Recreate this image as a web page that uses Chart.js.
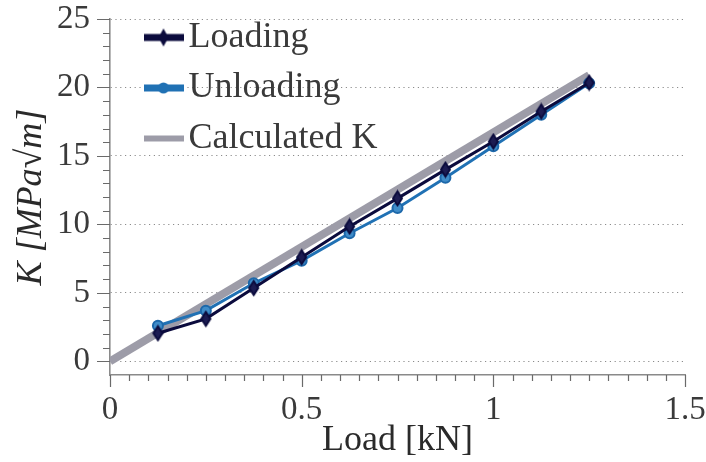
<!DOCTYPE html>
<html>
<head>
<meta charset="utf-8">
<script src="https://cdn.jsdelivr.net/npm/chart.js@4"></script>
<style>
  html, body { margin: 0; padding: 0; background: #ffffff; }
  #wrap { width: 706px; height: 462px; position: relative; }
</style>
</head>
<body>
<div id="wrap"><canvas id="c" width="706" height="462"></canvas></div>
<script>
// ---- data ----
const loadKN      = [0.125, 0.25, 0.375, 0.5, 0.625, 0.75, 0.875, 1.0, 1.125, 1.25];
const loadingK    = [2.05, 3.1, 5.35, 7.6, 9.85, 11.9, 14.0, 16.05, 18.25, 20.35];
const unloadingK  = [2.6, 3.7, 5.7, 7.35, 9.35, 11.2, 13.4, 15.7, 18.0, 20.3];
const calcLoadKN  = [0, 1.25];
const calcK       = [0, 20.9];
const seriesNames = ['Loading', 'Unloading', 'Calculated K'];
const xTickLabels = ['0', '0.5', '1', '1.5'];
const yTickLabels = ['0', '5', '10', '15', '20', '25'];
const xTitle = 'Load [kN]';
const yTitle = 'K [MPa\u221Am]';

// ---- styles ----
const NAVY = '#0b0b3d';
const BLUE = '#2071b4';
const GRAY = '#9d9ca8';
const TEXT = '#3a3a3a';
const SERIF = 'Liberation Serif';

function diamondCanvas(w, h, fill, stroke, lw) {
  const c = document.createElement('canvas');
  c.width = Math.ceil(w + lw + 2); c.height = Math.ceil(h + lw + 2);
  const g = c.getContext('2d');
  const cx = c.width / 2, cy = c.height / 2;
  g.beginPath();
  g.moveTo(cx, cy - h / 2); g.lineTo(cx + w / 2, cy); g.lineTo(cx, cy + h / 2); g.lineTo(cx - w / 2, cy); g.closePath();
  g.fillStyle = fill; g.fill();
  g.lineWidth = lw; g.strokeStyle = stroke; g.stroke();
  return c;
}
function legendCanvas(color, lw, marker) {
  const c = document.createElement('canvas');
  c.width = 40; c.height = 22;
  const g = c.getContext('2d');
  g.strokeStyle = color; g.lineWidth = lw; g.lineCap = 'butt';
  g.beginPath(); g.moveTo(0, 11); g.lineTo(40, 11); g.stroke();
  if (marker === 'diamond') {
    g.beginPath(); g.moveTo(20, 2); g.lineTo(25, 11); g.lineTo(20, 20); g.lineTo(15, 11); g.closePath();
    g.fillStyle = color; g.fill();
  } else if (marker === 'circle') {
    g.beginPath(); g.arc(20, 11, 5.5, 0, Math.PI * 2); g.fillStyle = color; g.fill();
  }
  return c;
}
const pointDiamond = diamondCanvas(9, 14, '#1c1c52', NAVY, 2);
const legendImgs = [legendCanvas(NAVY, 7, 'diamond'), legendCanvas(BLUE, 7, 'circle'), legendCanvas(GRAY, 6, null)];

const isMajorX = v => Math.abs(v * 2 - Math.round(v * 2)) < 1e-6;
const isMajorY = v => Math.abs(v / 5 - Math.round(v / 5)) < 1e-6 && v >= 0;

const tickMarks = {
  id: 'tickMarks',
  afterDraw(chart) {
    const ctx = chart.ctx;
    const xs = chart.scales.x, ys = chart.scales.y;
    ctx.save();
    ctx.strokeStyle = '#6a6a6a';
    ctx.lineWidth = 1.2;
    ctx.beginPath();
    xs.ticks.forEach(t => {
      const px = Math.round(xs.getPixelForValue(t.value)) + 0.5;
      const len = isMajorX(t.value) ? 12 : 6;
      ctx.moveTo(px, xs.top); ctx.lineTo(px, xs.top + len);
    });
    ys.ticks.forEach(t => {
      if (t.value < 0) return;
      const py = Math.round(ys.getPixelForValue(t.value)) + 0.5;
      const len = isMajorY(t.value) ? 13 : 7;
      ctx.moveTo(ys.right, py); ctx.lineTo(ys.right - len, py);
    });
    ctx.stroke();
    ctx.restore();
  }
};
const legendPlace = {
  id: 'legendPlace',
  afterLayout(chart) {
    if (chart.legend) { chart.legend.left = 142; chart.legend.top = 5; }
  }
};

new Chart(document.getElementById('c'), {
  type: 'line',
  data: {
    datasets: [
      {
        label: seriesNames[0],
        data: loadKN.map((x, i) => ({ x, y: loadingK[i] })),
        borderColor: NAVY, borderWidth: 3,
        pointStyle: pointDiamond, pointRadius: 6,
        backgroundColor: NAVY
      },
      {
        label: seriesNames[1],
        data: loadKN.map((x, i) => ({ x, y: unloadingK[i] })),
        borderColor: BLUE, borderWidth: 3,
        pointStyle: 'circle', pointRadius: 5, pointBorderWidth: 2,
        pointBackgroundColor: '#3f8cc9', pointBorderColor: '#1d68aa',
        backgroundColor: BLUE
      },
      {
        label: seriesNames[2],
        data: calcLoadKN.map((x, i) => ({ x, y: calcK[i] })),
        borderColor: GRAY, borderWidth: 8, borderCapStyle: 'butt',
        pointRadius: 0, backgroundColor: GRAY
      }
    ]
  },
  options: {
    responsive: true,
    maintainAspectRatio: false,
    animation: false,
    devicePixelRatio: 1,
    layout: { padding: { left: 0, right: 21, top: 19, bottom: 0 } },
    plugins: {
      tooltip: { enabled: false },
      legend: {
        position: 'chartArea',
        align: 'start',
        labels: {
          usePointStyle: true,
          pointStyleWidth: 14,
          padding: 14.5,
          color: TEXT,
          font: { family: SERIF, size: 36 },
          generateLabels: (chart) => chart.data.datasets.map((d, i) => ({
            text: d.label,
            pointStyle: legendImgs[i],
            fillStyle: d.borderColor,
            strokeStyle: d.borderColor,
            lineWidth: 0,
            hidden: false,
            fontColor: TEXT,
            datasetIndex: i
          }))
        }
      }
    },
    scales: {
      x: {
        type: 'linear',
        min: 0, max: 1.5,
        afterFit: s => { s.height = 87; s.paddingLeft = 0; s.paddingRight = 0; },
        grid: { display: false, drawTicks: false },
        border: { display: true, color: '#8a8a8a', width: 1.6 },
        ticks: {
          stepSize: 0.05,
          autoSkip: false,
          maxRotation: 0, minRotation: 0,
          padding: 15.5,
          color: TEXT,
          font: { family: SERIF, size: 33, lineHeight: 1.2 },
          callback: v => {
            if (!isMajorX(v)) return '';
            const idx = Math.round(v * 2);
            return xTickLabels[idx] !== undefined ? xTickLabels[idx] : '';
          }
        },
        title: {
          display: true, text: xTitle, color: '#2a2a2a',
          font: { family: SERIF, size: 36, lineHeight: 1.2 },
          padding: { top: 0, bottom: 0 }
        }
      },
      y: {
        type: 'linear',
        min: -1, max: 25,
        afterFit: s => { s.width = 110; s.paddingTop = 0; s.paddingBottom = 0; },
        grid: {
          drawTicks: false,
          lineWidth: 1,
          color: c => (c.tick && isMajorY(c.tick.value)) ? '#8c8c8c' : 'rgba(0,0,0,0)'
        },
        border: { display: true, color: '#8a8a8a', width: 1.6, dash: [1.2, 3.6] },
        ticks: {
          stepSize: 1,
          autoSkip: false,
          padding: 20,
          color: TEXT,
          font: { family: SERIF, size: 33, lineHeight: 1.1 },
          callback: v => {
            if (!isMajorY(v)) return '';
            const idx = Math.round(v / 5);
            return yTickLabels[idx] !== undefined ? yTickLabels[idx] : '';
          }
        },
        title: {
          display: true, text: yTitle, color: '#2a2a2a',
          font: { family: SERIF, size: 36, style: 'italic', lineHeight: 1.2 },
          padding: { top: 10.4, bottom: 0 }
        }
      }
    }
  },
  plugins: [tickMarks, legendPlace]
});
</script>
</body>
</html>
